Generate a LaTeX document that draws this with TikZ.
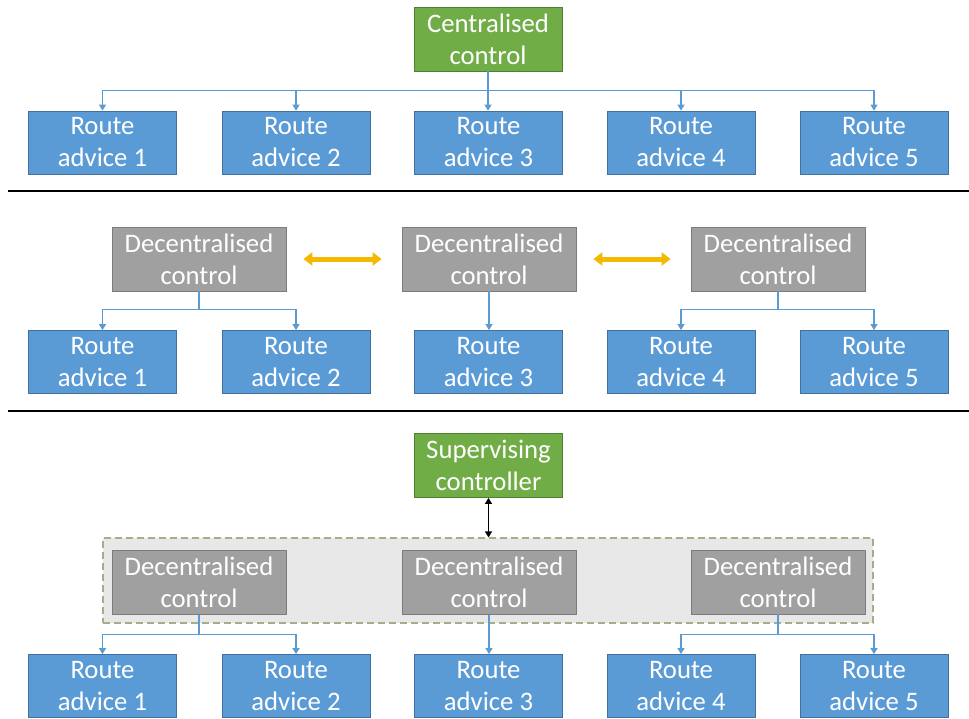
\documentclass[tikz,border=0pt]{standalone}
\usepackage{fontspec}
\setmainfont{Carlito}
\usetikzlibrary{arrows.meta,calc}

\definecolor{advblue}{HTML}{5B9BD5}
\definecolor{advblueedge}{HTML}{41719C}
\definecolor{ctrlgreen}{HTML}{70AD47}
\definecolor{ctrlgreenedge}{HTML}{507E32}
\definecolor{decgray}{HTML}{A0A0A0}
\definecolor{decgrayedge}{HTML}{7C7C7C}
\definecolor{linkgold}{HTML}{F5B800}
\definecolor{groupfill}{HTML}{E9E8E8}
\definecolor{groupedge}{HTML}{A2B089}

\tikzset{
  boxtext/.style={text=white, align=center, inner sep=0pt,
    font=\fontsize{26.7}{32}\selectfont},
  routebox/.style={boxtext, rectangle, fill=advblue, draw=advblueedge,
    line width=0.8pt, minimum width=148pt, minimum height=63pt},
  centralbox/.style={boxtext, rectangle, fill=ctrlgreen, draw=ctrlgreenedge,
    line width=0.8pt, minimum width=148pt, minimum height=64pt},
  decbox/.style={boxtext, rectangle, fill=decgray, draw=decgrayedge,
    line width=0.8pt, minimum width=174pt, minimum height=64pt},
  groupbox/.style={rectangle, fill=groupfill, draw=groupedge, line width=1.2pt,
    dash pattern=on 7pt off 4pt, minimum width=770pt, minimum height=85pt,
    inner sep=0pt},
  conn/.style={draw=advblue, line width=1.2pt,
    -{Triangle[width=7pt,length=6pt]}},
  peerlink/.style={draw=linkgold, line width=5pt,
    {Triangle[width=13pt,length=9pt]}-{Triangle[width=13pt,length=9pt]}},
  suplink/.style={draw=black, line width=1.4pt,
    {Triangle[width=7pt,length=6pt]}-{Triangle[width=7pt,length=6pt]}},
  rule/.style={draw=black, line width=2pt}
}

\begin{document}
\begin{tikzpicture}[x=1pt,y=-1pt]
  \useasboundingbox (0,0) rectangle (969,718);

  % ---------- centralised ----------
  \node[centralbox] (cc) at (488,39) {Centralised\\control};
  \node[routebox] (ra1) at (102.5,142.5) {Route\\advice 1};
  \node[routebox] (ra2) at (296,142.5) {Route\\advice 2};
  \node[routebox] (ra3) at (488.5,142.5) {Route\\advice 3};
  \node[routebox] (ra4) at (681,142.5) {Route\\advice 4};
  \node[routebox] (ra5) at (874,142.5) {Route\\advice 5};
  \foreach \r in {ra1,ra2,ra4,ra5}
    \draw[conn] (cc.south) |- ($(\r.north)+(0,-20)$) -- (\r.north);
  \draw[conn] (cc.south) -- (cc.south |- ra3.north);

  \draw[rule] (8,191) -- (969,191);

  % ---------- decentralised ----------
  \node[decbox] (da) at (199,259) {Decentralised\\control};
  \node[decbox] (db) at (489,259) {Decentralised\\control};
  \node[decbox] (dc) at (778,259) {Decentralised\\control};
  \node[routebox] (rb1) at (102.5,362) {Route\\advice 1};
  \node[routebox] (rb2) at (296,362) {Route\\advice 2};
  \node[routebox] (rb3) at (488.5,362) {Route\\advice 3};
  \node[routebox] (rb4) at (681,362) {Route\\advice 4};
  \node[routebox] (rb5) at (874,362) {Route\\advice 5};
  \draw[conn] (da.south) |- ($(rb1.north)+(0,-21)$) -- (rb1.north);
  \draw[conn] (da.south) |- ($(rb2.north)+(0,-21)$) -- (rb2.north);
  \draw[conn] (db.south) -- (db.south |- rb3.north);
  \draw[conn] (dc.south) |- ($(rb4.north)+(0,-21)$) -- (rb4.north);
  \draw[conn] (dc.south) |- ($(rb5.north)+(0,-21)$) -- (rb5.north);
  \draw[peerlink, shorten <=17pt, shorten >=20pt] (da.east) -- (db.west);
  \draw[peerlink, shorten <=17pt, shorten >=20pt] (db.east) -- (dc.west);

  \draw[rule] (8,411) -- (969,411);

  % ---------- supervised ----------
  \node[centralbox] (sup) at (488.5,465.5) {Supervising\\controller};
  \node[groupbox] (grp) at (488,580.5) {};
  \node[decbox] (ea) at (199,582.5) {Decentralised\\control};
  \node[decbox] (eb) at (489,582.5) {Decentralised\\control};
  \node[decbox] (ec) at (778,582) {Decentralised\\control};
  \node[routebox] (rc1) at (102.5,686) {Route\\advice 1};
  \node[routebox] (rc2) at (296,686) {Route\\advice 2};
  \node[routebox] (rc3) at (488.5,686) {Route\\advice 3};
  \node[routebox] (rc4) at (681,686) {Route\\advice 4};
  \node[routebox] (rc5) at (874,686) {Route\\advice 5};
  \draw[suplink] (sup.south) -- (sup.south |- grp.north);
  \draw[conn] (ea.south) |- ($(rc1.north)+(0,-20)$) -- (rc1.north);
  \draw[conn] (ea.south) |- ($(rc2.north)+(0,-20)$) -- (rc2.north);
  \draw[conn] (eb.south) -- (eb.south |- rc3.north);
  \draw[conn] (ec.south) |- ($(rc4.north)+(0,-20)$) -- (rc4.north);
  \draw[conn] (ec.south) |- ($(rc5.north)+(0,-20)$) -- (rc5.north);
\end{tikzpicture}
\end{document}
